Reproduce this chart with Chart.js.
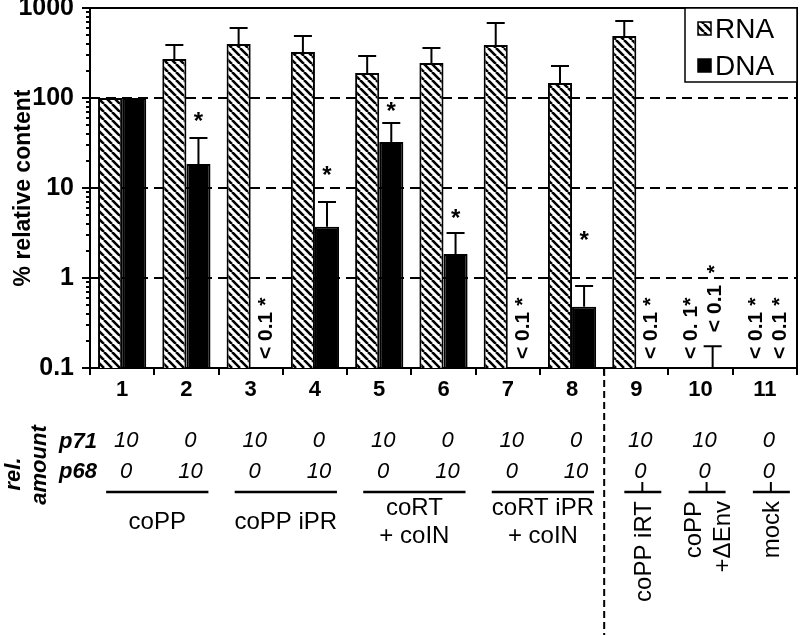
<!DOCTYPE html>
<html><head><meta charset="utf-8">
<script src="https://cdn.jsdelivr.net/npm/chart.js@4.4.0/dist/chart.umd.min.js"></script>
<style>html,body{margin:0;padding:0;background:#fff}#wrap{width:800px;height:635px}</style>
</head><body><div id="wrap"><canvas id="c" width="800" height="635"></canvas></div>
<script>
// ---------- data ----------
const categories = ['1','2','3','4','5','6','7','8','9','10','11'];
const rnaValues   = [100, 271, 398, 324, 190, 245, 388, 147, 489, null, null];
const rnaErrorTop = [null, 388, 600, 489, 293, 359, 681, 227, 717, null, null];
const dnaValues   = [100, 18.5, null, 3.7, 32.4, 1.85, null, 0.48, null, null, null];
const dnaErrorTop = [null, 36, null, 7.0, 52.7, 3.16, null, 0.815, null, 0.175, null];
const dnaAsteriskLevel = [null, 60, null, 15, 77, 5.0, null, 2.8, null, null, null];
const rnaBelowLabel = [null,null,null,null,null,null,null,null,null,'< 0. 1*','< 0.1 *'];
const dnaBelowLabel = [null,null,'< 0.1 *',null,null,null,'< 0.1 *',null,'< 0.1 *','< 0.1  *','< 0.1 *'];
const p71 = ['10','0','10','0','10','0','10','0','10','10','0'];
const p68 = ['0','10','0','10','0','10','0','10','0','0','0'];
const groupLabels = [['coPP'],['coPP iPR'],['coRT','+ coIN'],['coRT iPR','+ coIN'],['coPP iRT'],['coPP','+\u0394Env'],['mock']];
const groupStart = [0,2,4,6,8,9,10];
const groupEnd   = [1,3,5,7,8,9,10];
const yMajorTicks  = [0.1, 1, 10, 100, 1000];
const yMajorLabels = ['0.1','1','10','100','1000'];
const yDashedLines = [1, 10, 100];
const separatorAfter = 7; // vertical dashed separator after category index 7 (group "8")

const FONT = "'Liberation Sans', Arial, sans-serif";

function makeHatch(){
  const s = 8;
  const c = document.createElement('canvas'); c.width = s; c.height = s;
  const g = c.getContext('2d');
  g.fillStyle = '#fff'; g.fillRect(0,0,s,s);
  g.strokeStyle = '#000'; g.lineWidth = 2.6;
  g.beginPath();
  for (let k=-1;k<=1;k++){ g.moveTo(k*s,0); g.lineTo(k*s+s,s); }
  g.stroke();
  return g.createPattern(c,'repeat');
}
const hatch = makeHatch();

const yTickValues = [];
for (let e=-1; e<3; e++) for (let m=1; m<10; m++) yTickValues.push(parseFloat((m*Math.pow(10,e)).toPrecision(3)));
yTickValues.push(1000);

const annot = {
  id:'annot',
  beforeDatasetsDraw(chart){
    const {ctx, chartArea:a, scales:{y}} = chart;
    ctx.save();
    ctx.strokeStyle='#000'; ctx.lineWidth=2; ctx.setLineDash([10,6]);
    yDashedLines.forEach(v=>{
      const py = Math.round(y.getPixelForValue(v));
      ctx.beginPath(); ctx.moveTo(a.left, py); ctx.lineTo(a.right, py); ctx.stroke();
    });
    ctx.restore();
  },
  afterDatasetsDraw(chart){
    const {ctx, chartArea:a, scales:{x,y}} = chart;
    const m0 = chart.getDatasetMeta(0), m1 = chart.getDatasetMeta(1);
    ctx.save();
    // frame top & right
    ctx.strokeStyle='#000'; ctx.lineWidth=2; ctx.setLineDash([]);
    ctx.beginPath(); ctx.moveTo(a.left,a.top); ctx.lineTo(a.right,a.top); ctx.lineTo(a.right,a.bottom); ctx.stroke();
    // error bars
    const drawErr = (meta, vals, errs) => {
      errs.forEach((e,i)=>{
        if (e==null) return;
        const cx = meta.data[i].x;
        const base = vals[i]==null ? a.bottom : y.getPixelForValue(vals[i]);
        const top = y.getPixelForValue(e);
        ctx.beginPath(); ctx.moveTo(cx, base); ctx.lineTo(cx, top);
        ctx.moveTo(cx-9, top); ctx.lineTo(cx+9, top); ctx.stroke();
      });
    };
    ctx.lineWidth=2;
    drawErr(m0, rnaValues, rnaErrorTop);
    drawErr(m1, dnaValues, dnaErrorTop);
    // asterisks
    ctx.fillStyle='#000';
    ctx.font = 'bold 24px '+FONT; ctx.textAlign='center'; ctx.textBaseline='middle';
    dnaAsteriskLevel.forEach((v,i)=>{
      if (v==null) return;
      ctx.fillText('*', m1.data[i].x, y.getPixelForValue(v)+4);
    });
    // below detection labels (rotated)
    const drawBelow = (meta, labels, errs) => {
      labels.forEach((t,i)=>{
        if (!t) return;
        const cx = meta.data[i].x + 3;
        const start = errs[i]!=null ? y.getPixelForValue(errs[i]) - 14 : a.bottom - 9;
        ctx.save(); ctx.translate(cx, start); ctx.rotate(-Math.PI/2);
        ctx.font='bold 21px '+FONT; ctx.textAlign='left'; ctx.textBaseline='middle';
        ctx.fillText(t, 0, 0); ctx.restore();
      });
    };
    drawBelow(m0, rnaBelowLabel, rnaErrorTop);
    drawBelow(m1, dnaBelowLabel, dnaErrorTop);
    // y minor/major ticks
    ctx.lineWidth=2;
    y.ticks.forEach(t=>{
      const py = Math.round(y.getPixelForValue(t.value));
      const len = yMajorTicks.includes(t.value) ? 8 : 4;
      ctx.beginPath(); ctx.moveTo(a.left-len, py); ctx.lineTo(a.left, py); ctx.stroke();
    });
    // legend
    const lx=685, ly=a.top, lw=a.right-685, lh=74;
    ctx.fillStyle='#fff'; ctx.fillRect(lx,ly,lw,lh);
    ctx.lineWidth=1.5; ctx.strokeRect(lx,ly,lw,lh);
    const ds = chart.data.datasets;
    [[ds[0],ly+21],[ds[1],ly+58]].forEach(([d,cy])=>{
      ctx.fillStyle=d.backgroundColor; ctx.fillRect(698,cy-7,13,13);
      ctx.lineWidth=1.5; ctx.strokeStyle='#000'; ctx.strokeRect(698,cy-7,13,13);
      ctx.fillStyle='#000'; ctx.font='28px '+FONT; ctx.textAlign='left'; ctx.textBaseline='middle';
      ctx.fillText(d.label, 715, cy+1);
    });
    ctx.restore();
  },
  afterDraw(chart){
    const {ctx, chartArea:a, scales:{x}} = chart;
    ctx.save(); ctx.fillStyle='#000'; ctx.strokeStyle='#000';
    // row labels
    ctx.font='italic bold 22px '+FONT; ctx.textAlign='right'; ctx.textBaseline='middle';
    ctx.fillText('p71', 97, 442); ctx.fillText('p68', 97, 472);
    [['rel.',14,474],['amount',40,465]].forEach(([t,cx,cy])=>{
      ctx.save(); ctx.translate(cx,cy); ctx.rotate(-Math.PI/2); ctx.textAlign='center';
      ctx.fillText(t,0,0); ctx.restore();
    });
    // amounts
    ctx.font='italic 22px '+FONT; ctx.textAlign='center';
    categories.forEach((c,i)=>{
      const cx = x.getPixelForValue(i)+4;
      ctx.fillText(p71[i], cx, 441); ctx.fillText(p68[i], cx, 472);
    });
    // group lines and labels
    ctx.lineWidth=2.5;
    groupLabels.forEach((lines,g)=>{
      const s = x.getPixelForValue(groupStart[g]), e = x.getPixelForValue(groupEnd[g]);
      const single = groupStart[g]===groupEnd[g];
      const x1 = single ? s-12 : s-16, x2 = single ? e+25 : e+22;
      ctx.beginPath(); ctx.moveTo(x1,492); ctx.lineTo(x2,492); ctx.stroke();
      ctx.font='24px '+FONT; ctx.textBaseline='middle';
      if (!single){
        const mid=(x1+x2)/2; ctx.textAlign='center';
        lines.forEach((t,k)=>ctx.fillText(t, mid, 522 + (k-(lines.length-1)/2)*28));
      } else {
        ctx.lineWidth=2;
        ctx.beginPath(); ctx.moveTo(s+6,482); ctx.lineTo(s+6,492); ctx.stroke();
        ctx.lineWidth=2.5;
        const cxm = s+8;
        lines.forEach((t,k)=>{
          ctx.save(); ctx.translate(cxm + (k-(lines.length-1)/2)*29, 501); ctx.rotate(-Math.PI/2);
          ctx.textAlign='right'; ctx.fillText(t,0,0); ctx.restore();
        });
      }
    });
    // vertical dashed separator
    const sx = (x.getPixelForValue(separatorAfter)+x.getPixelForValue(separatorAfter+1))/2;
    ctx.lineWidth=2; ctx.setLineDash([7,4]);
    ctx.beginPath(); ctx.moveTo(sx, a.bottom+1); ctx.lineTo(sx, 635); ctx.stroke();
    ctx.restore();
  }
};

new Chart(document.getElementById('c').getContext('2d'), {
  type:'bar',
  data:{ labels:categories, datasets:[
    {label:'RNA', data:rnaValues, backgroundColor:hatch, borderColor:'#000', borderWidth:2, borderSkipped:'start', categoryPercentage:0.75, barPercentage:1},
    {label:'DNA', data:dnaValues, backgroundColor:'#000', borderColor:'#000', borderWidth:2, borderSkipped:'start', categoryPercentage:0.75, barPercentage:1}
  ]},
  options:{
    responsive:false, animation:false, devicePixelRatio:1,
    layout:{padding:{top:8,right:3,left:0,bottom:0}},
    plugins:{legend:{display:false}, tooltip:{enabled:false}},
    scales:{
      x:{
        grid:{display:true, drawOnChartArea:false, drawTicks:true, tickLength:7, color:'#000', lineWidth:2, offset:true},
        border:{display:true, color:'#000', width:2},
        ticks:{font:{family:FONT, size:22, weight:'bold'}, color:'#000', padding:2, maxRotation:0, autoSkip:false},
        afterFit(s){ s.height = 267; s.paddingLeft = 0; s.paddingRight = 0; }
      },
      y:{
        type:'logarithmic', min:0.1, max:1000,
        grid:{display:false},
        border:{display:true, color:'#000', width:2},
        afterBuildTicks(s){ s.ticks = yTickValues.map(v=>({value:v, major:yMajorTicks.includes(v)})); },
        ticks:{
          autoSkip:false, padding:8, color:'#000',
          font:{family:FONT, size:25, weight:'bold'},
          callback(v){ const i = yMajorTicks.indexOf(v); return i>=0 ? yMajorLabels[i] : ''; }
        },
        title:{display:true, text:'% relative content', color:'#000', font:{family:FONT, size:23, weight:'bold'}, padding:{top:10,bottom:0}},
        afterFit(s){ s.width = 90; s.paddingTop = 0; s.paddingBottom = 0; }
      }
    }
  },
  plugins:[annot]
});
</script></body></html>
